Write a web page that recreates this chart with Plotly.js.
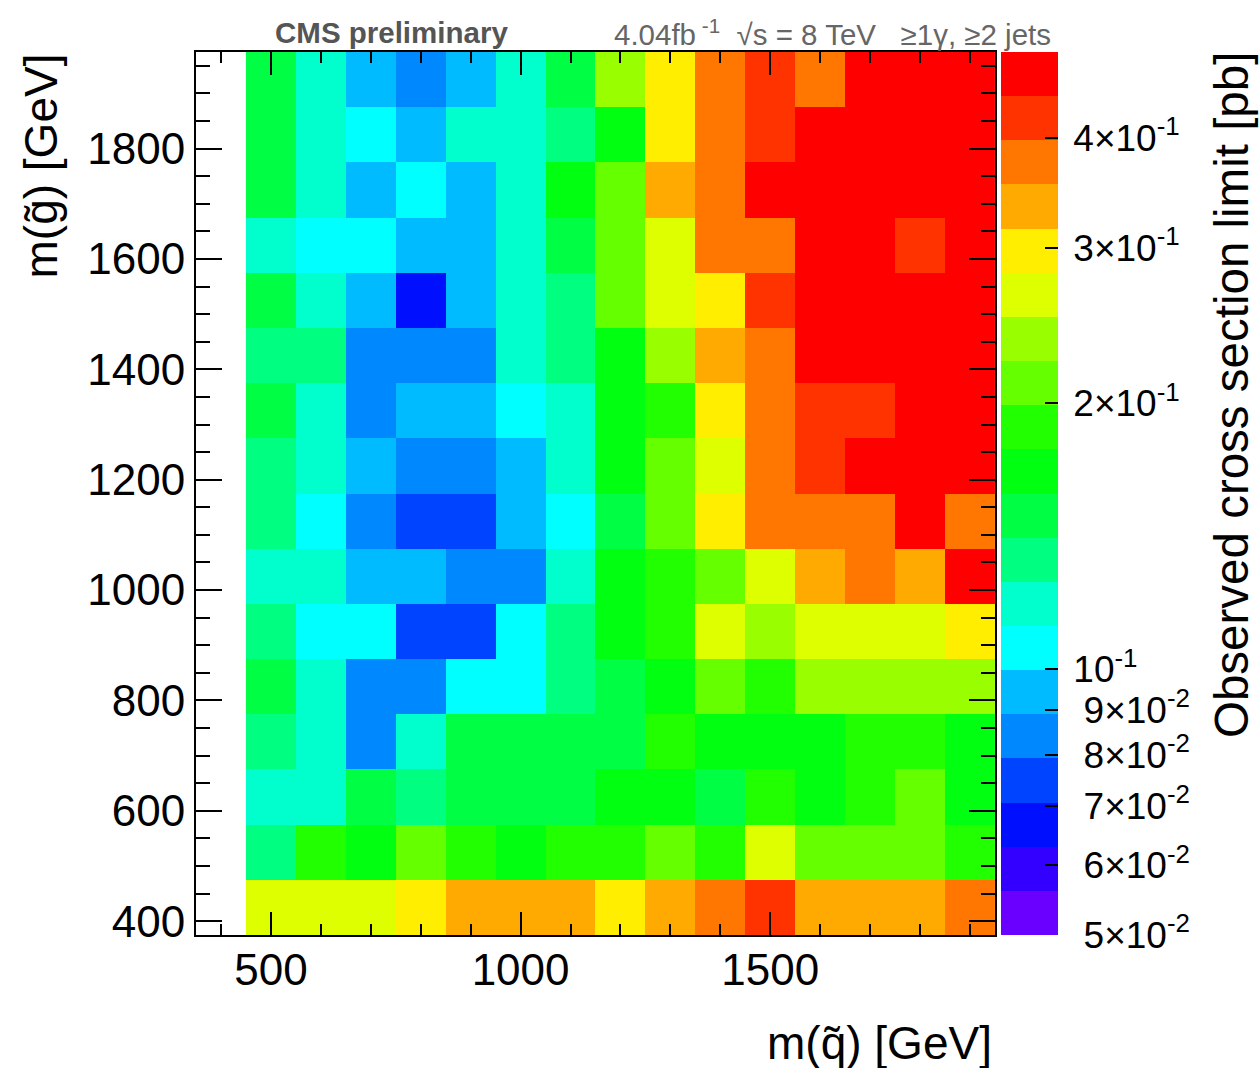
<!DOCTYPE html>
<html><head><meta charset="utf-8">
<script src="https://cdn.plot.ly/plotly-3.0.1.min.js"></script>
<style>html,body{margin:0;padding:0;background:#fff}</style>
</head><body><div id="chart" style="width:1259px;height:1068px"></div>
<script>
// squark mass bin centres (x) and gluino mass bin centres (y), GeV
const squarkMass = [500, 600, 700, 800, 900, 1000, 1100, 1200, 1300, 1400, 1500, 1600, 1700, 1800, 1900];
const gluinoMass = [425, 525, 625, 725, 825, 925, 1025, 1125, 1225, 1325, 1425, 1525, 1625, 1725, 1825, 1925];

// observed cross section limit [pb], one array per gluino-mass row
const limit_g425  = [0.265,0.265,0.265,0.298,0.334,0.334,0.334,0.298,0.334,0.375,0.421,0.334,0.334,0.334,0.375];
const limit_g525  = [0.133,0.188,0.168,0.211,0.188,0.168,0.188,0.188,0.211,0.188,0.265,0.211,0.211,0.211,0.188];
const limit_g625  = [0.119,0.119,0.149,0.133,0.149,0.149,0.149,0.168,0.168,0.149,0.188,0.168,0.188,0.211,0.168];
const limit_g725  = [0.133,0.119,0.084,0.119,0.149,0.149,0.149,0.149,0.188,0.168,0.168,0.168,0.188,0.188,0.168];
const limit_g825  = [0.149,0.119,0.084,0.084,0.106,0.106,0.133,0.149,0.168,0.211,0.188,0.237,0.237,0.237,0.237];
const limit_g925  = [0.133,0.106,0.106,0.075,0.075,0.106,0.133,0.168,0.188,0.265,0.237,0.265,0.265,0.265,0.298];
const limit_g1025 = [0.119,0.119,0.094,0.094,0.084,0.084,0.119,0.168,0.188,0.211,0.265,0.334,0.375,0.334,0.472];
const limit_g1125 = [0.133,0.106,0.084,0.075,0.075,0.094,0.106,0.149,0.211,0.298,0.375,0.375,0.375,0.472,0.375];
const limit_g1225 = [0.133,0.119,0.094,0.084,0.084,0.094,0.119,0.168,0.211,0.265,0.375,0.421,0.472,0.472,0.472];
const limit_g1325 = [0.149,0.119,0.084,0.094,0.094,0.106,0.119,0.168,0.188,0.298,0.375,0.421,0.421,0.472,0.472];
const limit_g1425 = [0.133,0.133,0.084,0.084,0.084,0.119,0.133,0.168,0.237,0.334,0.375,0.472,0.472,0.472,0.472];
const limit_g1525 = [0.149,0.119,0.094,0.067,0.094,0.119,0.133,0.211,0.265,0.298,0.421,0.472,0.472,0.472,0.472];
const limit_g1625 = [0.119,0.106,0.106,0.094,0.094,0.119,0.149,0.211,0.265,0.375,0.375,0.472,0.472,0.421,0.472];
const limit_g1725 = [0.149,0.119,0.094,0.106,0.094,0.119,0.168,0.211,0.334,0.375,0.472,0.472,0.472,0.472,0.472];
const limit_g1825 = [0.149,0.119,0.106,0.094,0.119,0.119,0.133,0.168,0.298,0.375,0.421,0.472,0.472,0.472,0.472];
const limit_g1925 = [0.149,0.119,0.094,0.084,0.094,0.119,0.149,0.237,0.298,0.375,0.421,0.375,0.472,0.472,0.472];

// colour bar
const zMin = 0.05, zMax = 0.5;
const paletteColors = ['#6a00ff','#3300ff','#0010ff','#0044ff','#0088ff','#00bbff','#00ffff','#00ffcc','#00ff80','#00ff44',
                       '#00ff10','#22ff00','#66ff00','#99ff00','#ddff00','#ffee00','#ffaa00','#ff7700','#ff3300','#ff0000'];
const cbTickValues = [0.05, 0.06, 0.07, 0.08, 0.09, 0.1, 0.2, 0.3, 0.4];
const cbTickLabels = ['\u00a0\u20095×10<sup>-2</sup>','\u00a0\u20096×10<sup>-2</sup>','\u00a0\u20097×10<sup>-2</sup>',
                      '\u00a0\u20098×10<sup>-2</sup>','\u00a0\u20099×10<sup>-2</sup>',
                      '\u200910<sup>-1</sup>','\u20092×10<sup>-1</sup>','\u20093×10<sup>-1</sup>','\u20094×10<sup>-1</sup>'];

const rows = [limit_g425, limit_g525, limit_g625, limit_g725, limit_g825, limit_g925, limit_g1025, limit_g1125,
              limit_g1225, limit_g1325, limit_g1425, limit_g1525, limit_g1625, limit_g1725, limit_g1825, limit_g1925];
const zLog = rows.map(r => r.map(v => Math.log10(v)));

const nBands = paletteColors.length;
const colorscale = [];
paletteColors.forEach((c, i) => { colorscale.push([i / nBands, c]); colorscale.push([(i + 1) / nBands, c]); });

const FONT = 'Liberation Sans, Arial, Helvetica, sans-serif';
const L = 196, R = 264, T = 52, B = 133, W = 1259, H = 1068;
const pw = W - L - R, ph = H - T - B;
const px = x => (x - L) / pw;      // pixel -> paper x
const py = y => (H - B - y) / ph;  // pixel -> paper y

const trace = {
  type: 'heatmap',
  x: squarkMass, y: gluinoMass, z: zLog,
  zmin: Math.log10(zMin), zmax: Math.log10(zMax),
  colorscale: colorscale,
  hoverinfo: 'skip',
  colorbar: {
    x: px(1001), xanchor: 'left', xpad: 0,
    y: 0.5, yanchor: 'middle', ypad: 0,
    len: 1, lenmode: 'fraction',
    thickness: 57, thicknessmode: 'pixels',
    outlinewidth: 0,
    tickmode: 'array',
    tickvals: cbTickValues.map(v => Math.log10(v)),
    ticktext: cbTickLabels,
    ticks: 'inside', ticklen: 13, tickwidth: 2, tickcolor: '#000',
    tickfont: {family: FONT, size: 37, color: '#000'}
  }
};

const axisCommon = {
  showgrid: false, zeroline: false,
  showline: true, linewidth: 2, linecolor: '#000', mirror: 'allticks',
  ticks: 'inside', tickwidth: 2, tickcolor: '#000',
  tickfont: {family: FONT, size: 44, color: '#000'}
};

const layout = {
  width: W, height: H,
  margin: {l: L, r: R, t: T, b: B, pad: 0},
  paper_bgcolor: '#fff', plot_bgcolor: '#fff',
  font: {family: FONT},
  xaxis: Object.assign({}, axisCommon, {
    range: [350, 1950], tickmode: 'linear', tick0: 0, dtick: 500, ticklen: 23, ticklabelstandoff: -5,
    minor: {dtick: 100, tick0: 0, ticks: 'inside', ticklen: 11, tickwidth: 2, tickcolor: '#000', showgrid: false}
  }),
  yaxis: Object.assign({}, axisCommon, {
    range: [375, 1975], tickmode: 'linear', tick0: 0, dtick: 200, ticklen: 26,
    minor: {dtick: 50, tick0: 0, ticks: 'inside', ticklen: 14, tickwidth: 2, tickcolor: '#000', showgrid: false}
  }),
  shapes: [
    {type: 'line', xref: 'paper', yref: 'paper', x0: px(1057), x1: px(1057), y0: 0, y1: 1,
     line: {color: '#000', width: 2}}
  ],
  annotations: [
    {text: '<b>CMS preliminary</b>', xref: 'paper', yref: 'paper', x: px(273), y: py(33),
     xanchor: 'left', yanchor: 'middle', showarrow: false,
     font: {family: FONT, size: 29.5, color: '#555555'}},
    {text: '4.04fb<sup> -1</sup>\u00a0\u00a0√s = 8 TeV\u00a0\u00a0\u00a0≥1γ, ≥2 jets', xref: 'paper', yref: 'paper',
     x: px(1053), y: py(33), xanchor: 'right', yanchor: 'middle', showarrow: false,
     font: {family: FONT, size: 29.5, color: '#666666'}},
    {text: 'm(g\u0303) [GeV]', xref: 'paper', yref: 'paper', x: px(40), y: py(52),
     xanchor: 'center', yanchor: 'top', textangle: -90, showarrow: false,
     font: {family: FONT, size: 46, color: '#000'}},
    {text: 'm(q\u0303) [GeV]', xref: 'paper', yref: 'paper', x: px(994), y: py(1043),
     xanchor: 'right', yanchor: 'middle', showarrow: false,
     font: {family: FONT, size: 46, color: '#000'}},
    {text: 'Observed cross section limit [pb]', xref: 'paper', yref: 'paper', x: px(1232), y: py(50),
     xanchor: 'center', yanchor: 'top', textangle: -90, showarrow: false,
     font: {family: FONT, size: 47.5, color: '#000'}}
  ]
};

Plotly.newPlot('chart', [trace], layout, {displayModeBar: false, staticPlot: true});
</script></body></html>
